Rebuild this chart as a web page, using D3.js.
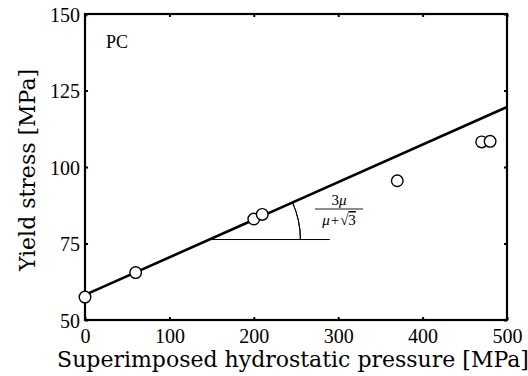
<!DOCTYPE html>
<html><head><meta charset="utf-8">
<script src="https://cdn.jsdelivr.net/npm/d3@7"></script>
<style>body{margin:0;background:#fff}svg{display:block}</style>
</head><body><svg id="c" width="528" height="376"></svg>
<script>
const pressure = [0, 60, 200, 210, 370, 470, 480];
const yieldStress = [57.5, 65.5, 83, 84.5, 95.5, 108.2, 108.4];
const fitX = [0, 500];
const fitY = [58.2, 119.6];
const xTicks = [0, 100, 200, 300, 400, 500];
const yTicks = [50, 75, 100, 125, 150];
const label = "PC";

const SERIF = '"Liberation Serif","Times New Roman",serif';
const WIDE = '"DejaVu Serif",serif';
const svg = d3.select("#c");
const m = {l:85, r:507, t:14, b:320};
const x = d3.scaleLinear().domain([0,500]).range([m.l, m.r]);
const y = d3.scaleLinear().domain([50,150]).range([m.b, m.t]);

const xa = svg.append("g").attr("transform",`translate(0,${m.b})`)
  .call(d3.axisBottom(x).tickValues(xTicks).tickSize(-3).tickPadding(9));
const xa2 = svg.append("g").attr("transform",`translate(0,${m.t})`)
  .call(d3.axisTop(x).tickValues(xTicks).tickSize(-3).tickFormat(""));
const ya = svg.append("g").attr("transform",`translate(${m.l},0)`)
  .call(d3.axisLeft(y).tickValues(yTicks).tickSize(-3).tickPadding(5));
const ya2 = svg.append("g").attr("transform",`translate(${m.r},0)`)
  .call(d3.axisRight(y).tickValues(yTicks).tickSize(-3).tickFormat(""));
[xa,xa2,ya,ya2].forEach(g=>{
  g.attr("font-family",null).attr("font-size",null);
  g.select(".domain").remove();
  g.selectAll(".tick line").attr("stroke","#000").attr("stroke-width",2);
  g.selectAll("text").style("font-family",SERIF).style("font-size","20px").attr("fill","#000");
});
xa.selectAll("text").attr("dy","0.71em");
ya.selectAll("text").attr("dy","0.35em");

svg.append("rect").attr("x",m.l).attr("y",m.t).attr("width",m.r-m.l).attr("height",m.b-m.t)
  .attr("fill","none").attr("stroke","#000").attr("stroke-width",2.2);

svg.append("line").attr("x1",x(fitX[0])).attr("y1",y(fitY[0])).attr("x2",x(fitX[1])).attr("y2",y(fitY[1]))
  .attr("stroke","#000").attr("stroke-width",2.6);

// angle annotation
const slope = (fitY[1]-fitY[0])/(fitX[1]-fitX[0]);
const yH = 76.3;
const xH = (yH - fitY[0])/slope;
const cx = x(xH), cy = y(yH);
svg.append("line").attr("x1",cx).attr("y1",cy).attr("x2",x(290)).attr("y2",cy).attr("stroke","#000").attr("stroke-width",1);
const ang = Math.atan2(y(fitY[1])-y(fitY[0]), x(fitX[1])-x(fitX[0]));
const R = 91;
const arc = d3.arc().innerRadius(R).outerRadius(R).startAngle(Math.PI/2).endAngle(Math.PI/2+ang);
svg.append("path").attr("d",arc()).attr("transform",`translate(${cx},${cy})`).attr("fill","none").attr("stroke","#000").attr("stroke-width",1);

// fraction
const fx = 339;
svg.append("text").attr("x",fx).attr("y",205).attr("text-anchor","middle").attr("fill","#000")
  .style("font-family",SERIF).style("font-size","15px")
  .html('3<tspan font-style="italic">μ</tspan>');
svg.append("line").attr("x1",315).attr("x2",363).attr("y1",209).attr("y2",209).attr("stroke","#000").attr("stroke-width",0.9);
svg.append("text").attr("x",fx).attr("y",225).attr("text-anchor","middle").attr("fill","#000")
  .style("font-family",SERIF).style("font-size","15px")
  .html('<tspan font-style="italic">μ</tspan><tspan dx="1">+</tspan><tspan dx="1">√</tspan><tspan style="text-decoration:overline">3</tspan>');

svg.append("g").selectAll("circle").data(pressure).join("circle")
  .attr("cx",(d)=>x(d)).attr("cy",(d,i)=>y(yieldStress[i])).attr("r",5.8)
  .attr("fill","#fff").attr("stroke","#000").attr("stroke-width",1.4);

svg.append("text").attr("x",106).attr("y",48).style("font-family",SERIF).style("font-size","18px").text(label);
svg.append("text").attr("x",(m.l+m.r)/2-3).attr("y",367).attr("text-anchor","middle")
  .style("font-family",WIDE).style("font-size","22px")
  .text("Superimposed hydrostatic pressure [MPa]");
svg.append("text").attr("transform",`translate(35,${170}) rotate(-90)`).attr("text-anchor","middle")
  .style("font-family",WIDE).style("font-size","22px")
  .text("Yield stress [MPa]");
</script></body></html>
